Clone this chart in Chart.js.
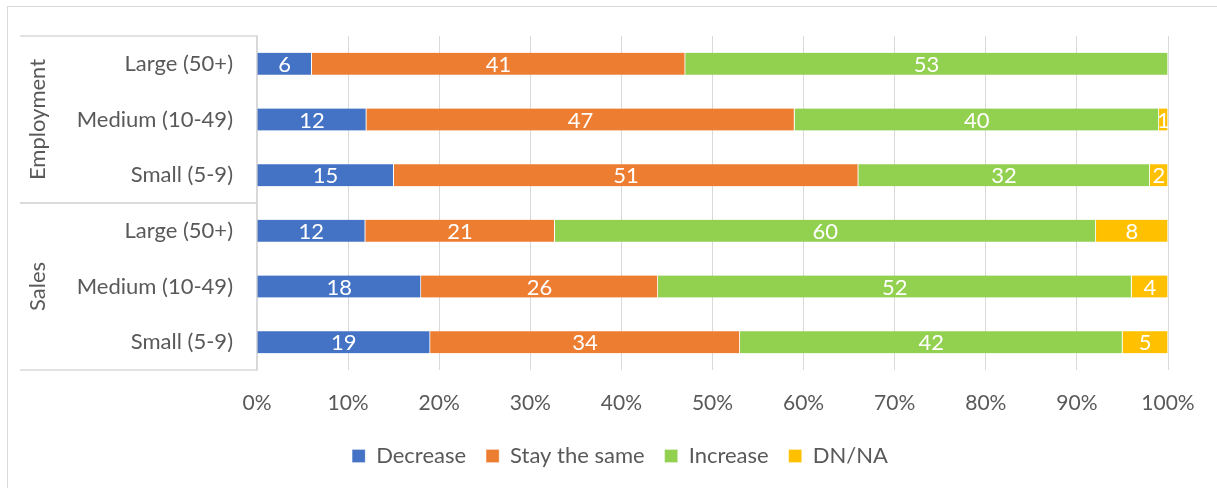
<!DOCTYPE html>
<html>
<head>
<meta charset="utf-8">
<script src="https://cdn.jsdelivr.net/npm/chart.js@4.4.1/dist/chart.umd.min.js"></script>
<style>
  html, body { margin: 0; padding: 0; background: #fff; overflow: hidden; }
  #frame { position: absolute; left: 7px; top: 6px; width: 1400px; height: 700px; border: 1px solid #d9d9d9; }
  #wrap { position: absolute; left: 0; top: 0; width: 1217px; height: 488px; }
</style>
</head>
<body>
<div id="frame"></div>
<div id="wrap"><canvas id="chart"></canvas></div>
<script>
// survey answers (% of firms), rows top to bottom
var categories = ['Large (50+)', 'Medium (10-49)', 'Small (5-9)', 'Large (50+)', 'Medium (10-49)', 'Small (5-9)'];
var groups = ['Employment', 'Sales'];
var groupSizes = [3, 3];
var decrease = [6, 12, 15, 12, 18, 19];
var staySame = [41, 47, 51, 21, 26, 34];
var increase = [53, 40, 32, 60, 52, 42];
var dnna = [0, 1, 2, 8, 4, 5];
var xTicks = ['0%', '10%', '20%', '30%', '40%', '50%', '60%', '70%', '80%', '90%', '100%'];

var FONT = 'Lato, "Noto Sans", sans-serif';
var GREY = '#595959';
var PAD_LEFT = 72;

var totals = categories.map(function (c, i) {
  return decrease[i] + staySame[i] + increase[i] + dnna[i];
});

function share(arr) {
  return arr.map(function (v, i) { return v / totals[i] * 100; });
}

function series(label, arr, color) {
  return {
    label: label,
    data: share(arr),
    raw: arr,
    backgroundColor: color,
    borderColor: '#ffffff',
    borderWidth: { top: 0, bottom: 0, left: 0, right: 1 },
    borderSkipped: false,
    barThickness: 22
  };
}

// white numbers in the middle of each segment
var barLabels = {
  id: 'barLabels',
  afterDatasetsDraw: function (chart) {
    var ctx = chart.ctx;
    ctx.save();
    ctx.font = '22px ' + FONT;
    ctx.fillStyle = '#ffffff';
    ctx.textAlign = 'center';
    ctx.textBaseline = 'middle';
    chart.data.datasets.forEach(function (ds, di) {
      chart.getDatasetMeta(di).data.forEach(function (bar, i) {
        var v = ds.raw[i];
        if (!v) return;
        var c = bar.getCenterPoint();
        ctx.fillText(String(v), c.x, c.y + 1);
      });
    });
    ctx.restore();
  }
};

// outer grouping of the category axis (Employment / Sales)
var groupAxis = {
  id: 'groupAxis',
  afterDraw: function (chart) {
    var y = chart.scales.y;
    var ctx = chart.ctx;
    var left = 20, right = y.right;
    var start = 0;
    ctx.save();
    ctx.strokeStyle = '#d9d9d9';
    ctx.lineWidth = 1.5;
    ctx.fillStyle = GREY;
    ctx.font = '22px ' + FONT;
    ctx.textAlign = 'center';
    ctx.textBaseline = 'middle';
    groups.forEach(function (g, k) {
      var top = y.getPixelForValue(start - 0.5);
      var bottom = y.getPixelForValue(start + groupSizes[k] - 0.5);
      ctx.beginPath();
      ctx.moveTo(left, top);
      ctx.lineTo(right, top);
      ctx.moveTo(left, bottom);
      ctx.lineTo(right, bottom);
      ctx.stroke();
      ctx.save();
      ctx.translate(38, (top + bottom) / 2);
      ctx.rotate(-Math.PI / 2);
      ctx.fillText(g, 0, 0);
      ctx.restore();
      start += groupSizes[k];
    });
    ctx.restore();
  }
};

var ctx = document.getElementById('chart').getContext('2d');
var chart = new Chart(ctx, {
  type: 'bar',
  data: {
    labels: categories,
    datasets: [
      series('Decrease', decrease, '#4472c4'),
      series('Stay the same', staySame, '#ed7d31'),
      series('Increase', increase, '#92d050'),
      series('DN/NA', dnna, '#ffc000')
    ]
  },
  options: {
    indexAxis: 'y',
    responsive: true,
    maintainAspectRatio: false,
    animation: false,
    layout: { padding: { left: PAD_LEFT, top: 36, right: 49, bottom: 11 } },
    scales: {
      x: {
        stacked: true,
        min: 0,
        max: 100,
        ticks: {
          stepSize: 10,
          padding: 21,
          color: GREY,
          font: { family: FONT, size: 21 },
          callback: function (v, i) { return xTicks[i]; }
        },
        grid: { color: '#d9d9d9', lineWidth: 1, drawTicks: false },
        border: { display: false },
        afterFit: function (scale) { scale.height = 55; }
      },
      y: {
        stacked: true,
        ticks: {
          padding: 16,
          color: GREY,
          font: { family: FONT, size: 22 }
        },
        grid: { display: false },
        border: { display: true, color: '#d9d9d9', width: 1.5 },
        afterFit: function (scale) { scale.width = 257 - PAD_LEFT; }
      }
    },
    plugins: {
      legend: {
        position: 'bottom',
        labels: {
          boxWidth: 13,
          boxHeight: 13,
          padding: 20,
          color: GREY,
          font: { family: FONT, size: 22 }
        }
      },
      tooltip: { enabled: false }
    }
  },
  plugins: [barLabels, groupAxis]
});
</script>
</body>
</html>
